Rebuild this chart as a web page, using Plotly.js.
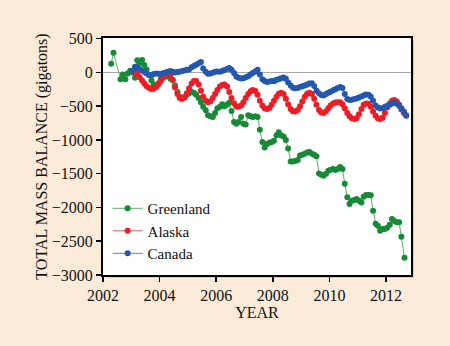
<!DOCTYPE html>
<html>
<head>
<meta charset="utf-8">
<script src="https://cdn.plot.ly/plotly-3.0.1.min.js"></script>
<style>
  html, body { margin: 0; padding: 0; background: #fcebd9; }
  #chart { width: 450px; height: 346px; }
</style>
</head>
<body>
<div id="chart"></div>
<script>
// values (decimal year, gigatons)
var greenlandYears = [2002.29, 2002.37, 2002.62, 2002.70, 2002.79, 2002.87, 2002.96, 2003.04, 2003.13, 2003.21,
    2003.29, 2003.38, 2003.46, 2003.54, 2003.63, 2003.71, 2003.79, 2003.88, 2003.96, 2004.04,
    2004.13, 2004.21, 2004.29, 2004.38, 2004.46, 2004.54, 2004.63, 2004.71, 2004.79, 2004.88,
    2004.96, 2005.04, 2005.13, 2005.21, 2005.29, 2005.38, 2005.46, 2005.54, 2005.63, 2005.71,
    2005.79, 2005.88, 2005.96, 2006.04, 2006.13, 2006.21, 2006.29, 2006.38, 2006.46, 2006.54,
    2006.63, 2006.71, 2006.79, 2006.88, 2006.96, 2007.04, 2007.13, 2007.21, 2007.29, 2007.38,
    2007.46, 2007.54, 2007.63, 2007.71, 2007.79, 2007.88, 2007.96, 2008.04, 2008.13, 2008.21,
    2008.29, 2008.38, 2008.46, 2008.54, 2008.63, 2008.71, 2008.79, 2008.88, 2008.96, 2009.04,
    2009.13, 2009.21, 2009.29, 2009.38, 2009.46, 2009.54, 2009.63, 2009.71, 2009.79, 2009.88,
    2009.96, 2010.04, 2010.13, 2010.21, 2010.29, 2010.38, 2010.46, 2010.54, 2010.63, 2010.71,
    2010.79, 2010.88, 2010.96, 2011.04, 2011.13, 2011.21, 2011.29, 2011.38, 2011.46, 2011.54,
    2011.63, 2011.71, 2011.79, 2011.88, 2011.96, 2012.04, 2012.13, 2012.21, 2012.29, 2012.38,
    2012.46, 2012.54, 2012.65];
var greenlandMass = [130, 290, -100, -30, -100, -15, 25, 0, -80, 180,
    140, 185, 110, 45, -40, -120, -180, -200, -160, -100,
    -60, -40, -60, -90, -115, -190, -290, -360, -390, -370,
    -330, -310, -290, -300, -330, -380, -440, -510, -560, -635,
    -650, -660, -600, -530, -510, -470, -500, -480, -450, -570,
    -735, -760, -735, -660, -760, -770, -635, -650, -660, -650,
    -660, -850, -1030, -1110, -1060, -1040, -1030, -1010, -930, -885,
    -930, -950, -1000, -1125, -1320, -1320, -1310, -1295, -1230, -1220,
    -1205, -1185, -1180, -1205, -1220, -1240, -1495, -1515, -1530, -1500,
    -1455, -1440, -1430, -1445, -1430, -1400, -1430, -1650, -1850, -1950,
    -1900, -1890, -1875, -1900, -1925, -1840, -1815, -1815, -1820, -2050,
    -2240, -2270, -2345, -2320, -2320, -2300, -2255, -2170, -2200, -2220,
    -2220, -2435, -2745];

var monthYears = [2003.04, 2003.13, 2003.21, 2003.29, 2003.38, 2003.46, 2003.54, 2003.63, 2003.71, 2003.79,
    2003.88, 2003.96, 2004.04, 2004.13, 2004.21, 2004.29, 2004.38, 2004.46, 2004.54, 2004.63,
    2004.71, 2004.79, 2004.88, 2004.96, 2005.04, 2005.13, 2005.21, 2005.29, 2005.38, 2005.46,
    2005.54, 2005.63, 2005.71, 2005.79, 2005.88, 2005.96, 2006.04, 2006.13, 2006.21, 2006.29,
    2006.38, 2006.46, 2006.54, 2006.63, 2006.71, 2006.79, 2006.88, 2006.96, 2007.04, 2007.13,
    2007.21, 2007.29, 2007.38, 2007.46, 2007.54, 2007.63, 2007.71, 2007.79, 2007.88, 2007.96,
    2008.04, 2008.13, 2008.21, 2008.29, 2008.38, 2008.46, 2008.54, 2008.63, 2008.71, 2008.79,
    2008.88, 2008.96, 2009.04, 2009.13, 2009.21, 2009.29, 2009.38, 2009.46, 2009.54, 2009.63,
    2009.71, 2009.79, 2009.88, 2009.96, 2010.04, 2010.13, 2010.21, 2010.29, 2010.38, 2010.46,
    2010.54, 2010.63, 2010.71, 2010.79, 2010.88, 2010.96, 2011.04, 2011.13, 2011.21, 2011.29,
    2011.38, 2011.46, 2011.54, 2011.63, 2011.71, 2011.79, 2011.88, 2011.96, 2012.04, 2012.13,
    2012.21, 2012.29, 2012.38, 2012.46, 2012.54, 2012.63, 2012.71];

var alaskaMass = [10, 0, -30, -70, -120, -165, -205, -230, -245, -240,
    -215, -175, -125, -80, -45, -30, -45, -110, -220, -320,
    -380, -390, -365, -310, -235, -165, -125, -125, -180, -270,
    -360, -420, -440, -425, -380, -320, -260, -210, -185, -180,
    -210, -290, -380, -455, -500, -510, -490, -440, -380, -320,
    -280, -260, -275, -330, -420, -490, -530, -540, -525, -480,
    -420, -360, -315, -300, -320, -390, -470, -540, -575, -580,
    -555, -500, -430, -360, -315, -300, -320, -390, -480, -555,
    -595, -600, -575, -530, -490, -460, -445, -440, -440, -470,
    -530, -600, -650, -680, -690, -680, -620, -540, -480, -460,
    -465, -510, -580, -640, -680, -690, -670, -600, -520, -460,
    -420, -410, -430, -480, -550, -600, -640];

var canadaMass = [25, 85, 70, 50, 25, 5, -15, -35, -40, -25,
    -15, -20, -25, -10, 0, 10, 20, 10, 0, 5,
    10, 20, 30, 40, 45, 75, 95, 115, 135, 155,
    60, 10, -20, -15, -5, 10, 15, 10, 20, 35,
    50, 65, 40, -10, -60, -80, -90, -85, -70, -55,
    -30, -10, 15, 40, -30, -100, -125, -140, -135, -125,
    -130, -110, -100, -85, -75, -95, -150, -195, -225, -235,
    -230, -215, -205, -195, -180, -165, -160, -200, -270, -310,
    -335, -340, -320, -300, -285, -265, -250, -230, -215, -230,
    -320, -395, -410, -405, -395, -385, -370, -355, -340, -325,
    -330, -360, -420, -490, -520, -535, -530, -510, -495, -480,
    -460, -450, -465, -495, -530, -580, -635];

var yearTicks = [2002, 2004, 2006, 2008, 2010, 2012];
var massTicks = [500, 0, -500, -1000, -1500, -2000, -2500, -3000];

var serif = '"Liberation Serif", "Times New Roman", serif';

function series(name, xs, ys, dot, line) {
    return {
        x: xs,
        y: ys,
        name: name,
        type: 'scatter',
        mode: 'lines+markers',
        line: { color: line, width: 1 },
        marker: { color: dot, size: 6 }
    };
}

var data = [
    series('Greenland', greenlandYears, greenlandMass, '#168a37', '#5fae6f'),
    series('Alaska', monthYears, alaskaMass, '#ee1c25', '#f0595e'),
    series('Canada', monthYears, canadaMass, '#2358ae', '#5a80c0')
];

var layout = {
    width: 450,
    height: 346,
    margin: { l: 103, r: 39, t: 38, b: 71 },
    paper_bgcolor: '#fcebd9',
    plot_bgcolor: 'rgba(0,0,0,0)',
    font: { family: serif, size: 16, color: '#111' },
    showlegend: true,
    legend: {
        x: 0.015, y: 0.35,
        xanchor: 'left', yanchor: 'top',
        bgcolor: 'rgba(0,0,0,0)',
        font: { family: serif, size: 15, color: '#111' },
        tracegroupgap: 0
    },
    xaxis: {
        range: [2002, 2012.88],
        tickvals: yearTicks,
        tickfont: { family: serif, size: 16, color: '#111' },
        ticks: 'outside',
        ticklen: 5,
        tickwidth: 1.5,
        tickcolor: '#000',
        showline: true,
        linecolor: '#000',
        linewidth: 2,
        mirror: true,
        showgrid: false,
        zeroline: false,
        title: { text: 'YEAR', font: { family: serif, size: 16 }, standoff: 3 }
    },
    yaxis: {
        range: [-3000, 510],
        tickvals: massTicks,
        tickfont: { family: serif, size: 16, color: '#111' },
        ticks: 'outside',
        ticklen: 5,
        tickwidth: 1.5,
        tickcolor: '#000',
        showline: true,
        linecolor: '#000',
        linewidth: 2,
        mirror: true,
        showgrid: false,
        zeroline: true,
        zerolinecolor: '#a8a8a8',
        zerolinewidth: 1,
        title: { text: 'TOTAL MASS BALANCE (gigatons)', font: { family: serif, size: 16 }, standoff: 0 }
    },
    shapes: [
        // soft drop shadow, then the white plot face
        { type: 'rect', xref: 'paper', yref: 'paper', layer: 'below',
          x0: 0.01, x1: 1.01, y0: -0.013, y1: 0.987,
          fillcolor: '#d9cfc4', line: { width: 0 } },
        { type: 'rect', xref: 'paper', yref: 'paper', layer: 'below',
          x0: 0, x1: 1, y0: 0, y1: 1,
          fillcolor: '#ffffff', line: { width: 0 } }
    ]
};

Plotly.newPlot('chart', data, layout, { displayModeBar: false, staticPlot: true });
</script>
</body>
</html>
